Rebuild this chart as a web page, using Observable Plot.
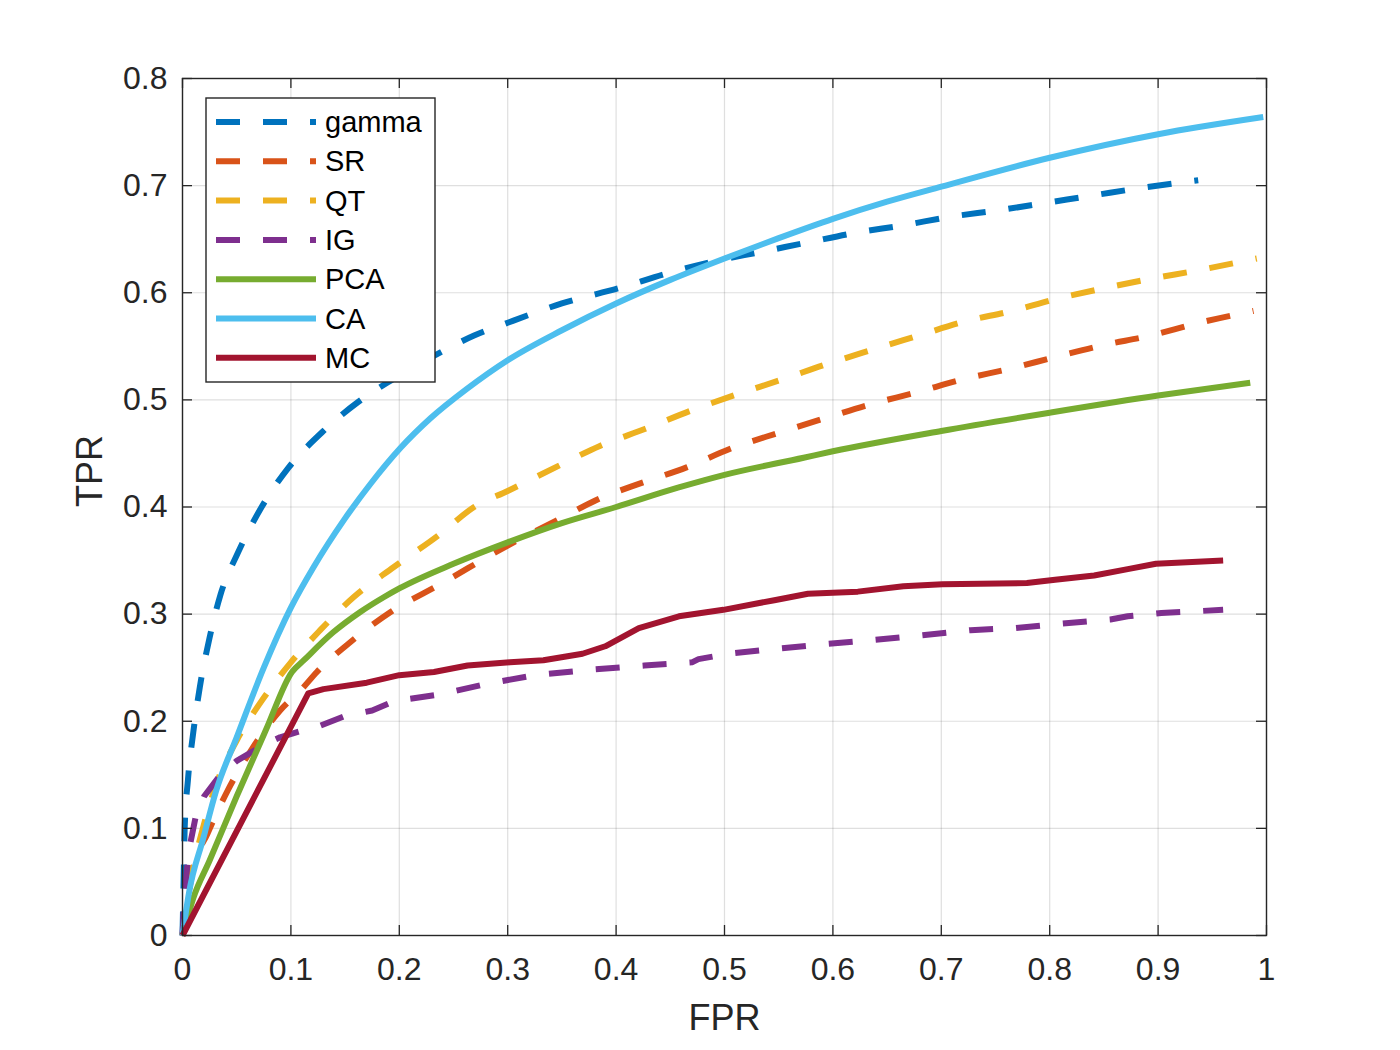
<!DOCTYPE html>
<html>
<head>
<meta charset="utf-8">
<script src="https://cdn.jsdelivr.net/npm/d3@7"></script>
<script src="https://cdn.jsdelivr.net/npm/@observablehq/plot@0.6"></script>
<style>
  html, body { margin: 0; padding: 0; background: #fff; }
  #wrap { position: relative; width: 1400px; height: 1050px; }
  #wrap svg { display: block; }
  #legend { position: absolute; left: 0; top: 0; }
</style>
</head>
<body>
<div id="wrap"></div>
<script>
// ---- Data ----
const fprTicks = [0, 0.1, 0.2, 0.3, 0.4, 0.5, 0.6, 0.7, 0.8, 0.9, 1];
const tprTicks = [0, 0.1, 0.2, 0.3, 0.4, 0.5, 0.6, 0.7, 0.8];

const seriesNames = ["gamma", "SR", "QT", "IG", "PCA", "CA", "MC"];
const seriesColors = ["#0072BD", "#D95319", "#EDB120", "#7E2F8E", "#77AC30", "#4DBEEE", "#A2142F"];
const seriesDashed = [true, true, true, true, false, false, false];

const gamma = [[0,0],[0.001,0.05],[0.002,0.1],[0.005,0.145],[0.01,0.19],[0.016,0.232],[0.025,0.278],[0.035,0.318],[0.051,0.357],[0.073,0.4],[0.098,0.437],[0.129,0.47],[0.162,0.498],[0.192,0.518],[0.241,0.546],[0.269,0.56],[0.3,0.572],[0.35,0.59],[0.405,0.605],[0.447,0.618],[0.489,0.629],[0.533,0.638],[0.577,0.647],[0.621,0.656],[0.665,0.663],[0.709,0.671],[0.753,0.677],[0.797,0.684],[0.841,0.691],[0.885,0.698],[0.937,0.705]];
const SR = [[0,0],[0.01,0.063],[0.023,0.095],[0.042,0.136],[0.064,0.174],[0.09,0.21],[0.11,0.23],[0.124,0.246],[0.155,0.274],[0.192,0.302],[0.238,0.328],[0.3,0.364],[0.35,0.39],[0.385,0.408],[0.425,0.423],[0.465,0.437],[0.507,0.455],[0.549,0.469],[0.593,0.483],[0.635,0.496],[0.677,0.507],[0.719,0.519],[0.763,0.529],[0.805,0.54],[0.849,0.551],[0.893,0.56],[0.934,0.571],[0.988,0.583]];
const QT = [[0,0],[0.008,0.055],[0.018,0.097],[0.03,0.138],[0.05,0.182],[0.073,0.219],[0.1,0.255],[0.127,0.285],[0.158,0.316],[0.195,0.344],[0.238,0.375],[0.269,0.4],[0.3,0.415],[0.35,0.44],[0.385,0.457],[0.427,0.473],[0.469,0.49],[0.511,0.505],[0.553,0.519],[0.593,0.533],[0.637,0.547],[0.679,0.56],[0.721,0.573],[0.765,0.583],[0.805,0.594],[0.849,0.604],[0.893,0.613],[0.937,0.621],[0.991,0.632]];
const IG = [[0,0],[0.002,0.04],[0.006,0.08],[0.012,0.11],[0.02,0.13],[0.035,0.15],[0.05,0.163],[0.075,0.178],[0.09,0.185],[0.113,0.192],[0.125,0.195],[0.15,0.205],[0.175,0.21],[0.196,0.219],[0.237,0.225],[0.281,0.235],[0.325,0.243],[0.375,0.248],[0.426,0.252],[0.47,0.255],[0.476,0.258],[0.504,0.263],[0.551,0.268],[0.592,0.272],[0.639,0.276],[0.68,0.28],[0.727,0.285],[0.768,0.287],[0.81,0.291],[0.856,0.295],[0.872,0.298],[0.903,0.301],[0.96,0.304]];
const PCA = [[0,0],[0.01,0.035],[0.025,0.07],[0.05,0.13],[0.077,0.192],[0.101,0.246],[0.112,0.257],[0.139,0.283],[0.164,0.302],[0.186,0.316],[0.2,0.324],[0.25,0.347],[0.3,0.367],[0.35,0.385],[0.4,0.4],[0.457,0.418],[0.5,0.43],[0.573,0.446],[0.6,0.452],[0.7,0.471],[0.8,0.488],[0.9,0.504],[0.985,0.516]];
const CA = [[0,0],[0.006,0.04],[0.019,0.09],[0.031,0.135],[0.05,0.185],[0.075,0.25],[0.1,0.306],[0.121,0.344],[0.149,0.388],[0.173,0.421],[0.201,0.455],[0.229,0.483],[0.262,0.51],[0.3,0.537],[0.35,0.565],[0.4,0.59],[0.45,0.612],[0.5,0.632],[0.55,0.651],[0.6,0.669],[0.65,0.685],[0.7,0.699],[0.8,0.726],[0.9,0.748],[0.997,0.764]];
const MC = [[0,0],[0.116,0.226],[0.13,0.23],[0.17,0.236],[0.2,0.243],[0.232,0.246],[0.263,0.252],[0.302,0.255],[0.333,0.257],[0.369,0.263],[0.39,0.27],[0.421,0.287],[0.458,0.298],[0.499,0.304],[0.546,0.313],[0.577,0.319],[0.623,0.321],[0.665,0.326],[0.701,0.328],[0.779,0.329],[0.805,0.332],[0.841,0.336],[0.872,0.342],[0.898,0.347],[0.96,0.35]];

const seriesData = [gamma, SR, QT, IG, PCA, CA, MC];
const seriesCurve = ["monotone-x", "monotone-x", "monotone-x", "linear", "monotone-x", "monotone-x", "linear"];

// ---- Build chart ----
const axisColor = "#262626";
const font = "'Liberation Sans', Arial, Helvetica, sans-serif";
const fmt = d => String(+d.toFixed(1));
const tickLenX = 10 / 1084;   // ~10px in FPR units
const tickLenY = 10 / 1071;   // ~10px in TPR units

const lineMarks = seriesData.map((pts, i) =>
  Plot.line(pts.map(([x, y]) => ({x, y})), {
    x: "x", y: "y",
    stroke: seriesColors[i],
    strokeWidth: 6,
    strokeDasharray: seriesDashed[i] ? "24,23" : null,
    strokeLinejoin: "round",
    strokeLinecap: "butt",
    curve: seriesCurve[i]
  })
);

const chart = Plot.plot({
  width: 1400,
  height: 1050,
  marginLeft: 182,
  marginRight: 134,
  marginTop: 78,
  marginBottom: 115,
  style: {fontFamily: font, background: "white", color: axisColor, overflow: "visible"},
  x: {domain: [0, 1], ticks: fprTicks, label: null},
  y: {domain: [0, 0.8], ticks: tprTicks, label: null},
  marks: [
    Plot.gridX(fprTicks, {stroke: axisColor, strokeOpacity: 0.15, strokeWidth: 1.2}),
    Plot.gridY(tprTicks, {stroke: axisColor, strokeOpacity: 0.15, strokeWidth: 1.2}),
    ...lineMarks,
    // inward ticks on all four sides
    Plot.ruleX(fprTicks, {x: d => d, y1: 0, y2: tickLenY, stroke: axisColor, strokeWidth: 1.3}),
    Plot.ruleX(fprTicks, {x: d => d, y1: 0.8 - tickLenY, y2: 0.8, stroke: axisColor, strokeWidth: 1.3}),
    Plot.ruleY(tprTicks, {y: d => d, x1: 0, x2: tickLenX, stroke: axisColor, strokeWidth: 1.3}),
    Plot.ruleY(tprTicks, {y: d => d, x1: 1 - tickLenX, x2: 1, stroke: axisColor, strokeWidth: 1.3}),
    Plot.axisX(fprTicks, {tickSize: 0, tickPadding: 22, fontSize: 32, tickFormat: fmt, label: null, fill: axisColor}),
    Plot.axisY(tprTicks, {tickSize: 0, tickPadding: 15, fontSize: 32, tickFormat: fmt, label: null, fill: axisColor}),
    Plot.frame({stroke: axisColor, strokeWidth: 1.4}),
    Plot.text(["FPR"], {frameAnchor: "bottom", dy: 94, fontSize: 36, fill: axisColor, text: d => d}),
    Plot.text(["TPR"], {frameAnchor: "left", dx: -92, rotate: -90, fontSize: 36, fill: axisColor, text: d => d})
  ]
});

const wrap = document.getElementById("wrap");
wrap.appendChild(chart);

// ---- Legend (overlay, built from the series arrays) ----
const lg = d3.select(wrap).append("svg")
  .attr("id", "legend")
  .attr("width", 1400).attr("height", 1050)
  .style("font-family", font);

const boxX = 206, boxY = 98, boxW = 229, boxH = 284;
lg.append("rect")
  .attr("x", boxX).attr("y", boxY).attr("width", boxW).attr("height", boxH)
  .attr("fill", "white").attr("stroke", axisColor).attr("stroke-width", 1.4);

const rowY0 = 122, rowStep = 39.3;
seriesNames.forEach((name, i) => {
  const y = rowY0 + i * rowStep;
  lg.append("line")
    .attr("x1", 216).attr("x2", 316).attr("y1", y).attr("y2", y)
    .attr("stroke", seriesColors[i]).attr("stroke-width", 6)
    .attr("stroke-dasharray", seriesDashed[i] ? "24,23" : null);
  lg.append("text")
    .attr("x", 325).attr("y", y).attr("dy", "0.35em")
    .attr("font-size", 29).attr("fill", "#000")
    .text(name);
});
</script>
</body>
</html>
